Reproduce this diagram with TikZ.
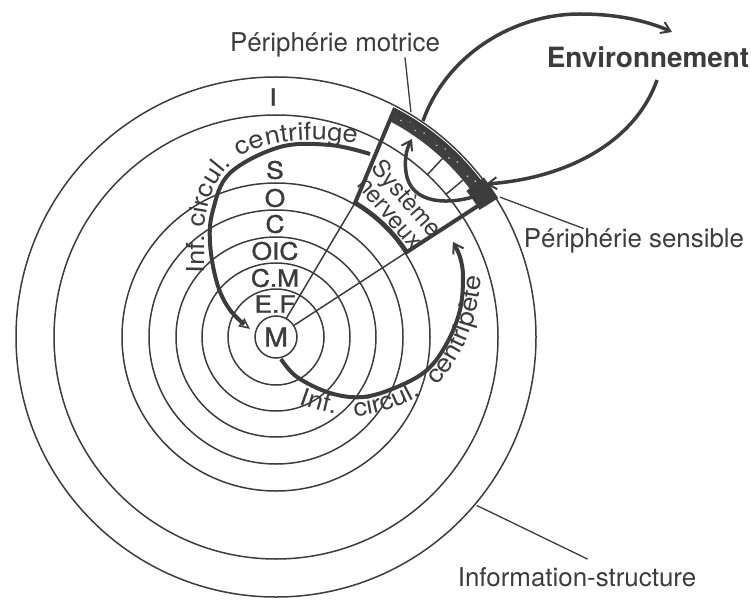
\documentclass[tikz,border=0pt]{standalone}
\usepackage{fontspec}
\setmainfont{TeX Gyre Heros}
\newfontfamily\widehel[FakeStretch=1.1]{TeX Gyre Heros}
\newfontfamily\levelhel[FakeStretch=1.1,FakeBold=1.5]{TeX Gyre Heros}
\usetikzlibrary{arrows.meta,decorations.text}
\definecolor{ink}{HTML}{3C3C3C}
\definecolor{band}{HTML}{404040}
\begin{document}
\begin{tikzpicture}[x=1bp,y=-1bp,
  ring/.style={draw=ink,line width=1.5bp},
  heavy/.style={draw=ink,line width=4bp},
  pointer/.style={draw=ink,line width=1.3bp},
  barb/.style={-{Straight Barb[length=9bp,width=12bp,line width=2bp]}},
  lbl/.style={inner sep=0pt,text=ink,font=\fontsize{26}{26}\selectfont},
  ringlbl/.style={inner sep=0pt,text=ink,font=\levelhel\fontsize{24}{24}\selectfont},
  curvetext/.style={decorate,decoration={text along path,text align=left,
     text={|\widehel\fontsize{25}{25}\selectfont\color{ink}|#1}}},
]
\useasboundingbox (0,0) rectangle (751,600);
\coordinate (C) at (276,337);

% concentric levels
\begin{scope}[shift={(C)}]
  \foreach \r in {48,74,100,127,154,222,260}
    \draw[ring] (0,0) circle[radius=\r];
\end{scope}
\node[ring,fill=white,circle,minimum size=42bp,inner sep=0pt,ringlbl,font=\levelhel\fontsize{26}{26}\selectfont] (M) at (C) {M};

% level names
\node[ringlbl] (lI)   at (273,97)  {I};
\node[ringlbl] (lS)   at (275,170) {S};
\node[ringlbl] (lO)   at (275,198) {O};
\node[ringlbl] (lC)   at (275,224) {C};
\node[ringlbl] (lOIC) at (275,251) {OIC};
\node[ringlbl] (lCM)  at (275,278) {C.M};
\node[ringlbl] (lEF)  at (275,304) {E.F};

% nervous system sector
\begin{scope}[shift={(C)}]
  \draw[ring] (M.61) -- (-59.5:156);
  \draw[ring] (M.33) -- (-33:156);
  \fill[band] (-62.5:244) arc[start angle=-62.5,end angle=-34,radius=244]
     -- (-34:258) arc[start angle=-34,end angle=-62.5,radius=258] -- cycle;
  \foreach \a/\r in {-60/250,-58/254,-56/249,-54/252,-52/255,-50/250,-48/253,-46/249,-44/252,-42/255,-40/250,-38/253}
    \fill[white!70!band] (\a:\r) circle[radius=0.9];
  \fill[ink] (-32:240) arc[start angle=-32,end angle=-37.5,radius=240]
     -- (-37.5:262) arc[start angle=-37.5,end angle=-32,radius=262] -- cycle;
  \draw[ring] (-47:222) -- (-47:244);
  \draw[ring] (-40:222) -- (-40:244);
  \draw[heavy,line join=miter] (-59.5:156) -- (-62.5:256)
     arc[start angle=-62.5,end angle=-33,radius=256]
     -- (-33:156) arc[start angle=-33,end angle=-59.5,radius=156] -- cycle;
  \coordinate (pm) at (-59:262);
  \coordinate (ps) at (-32:264);
  \coordinate (is) at (40:262);
\end{scope}
\node[lbl,font=\fontsize{24}{22}\selectfont,rotate=-49,align=center] (sn) at (399,205) {Système\\nerveux};

% reflex loop inside the sector
\draw[heavy,line width=3.5bp,barb] (482,194) .. controls (450,206) and (410,205) .. (406,172)
   .. controls (404,158) and (407,148) .. (412,139);

% centrifugal circulation
\draw[heavy,-{Triangle[open,length=11bp,width=10bp,line width=1.5bp]}]
  plot[smooth,tension=0.6] coordinates {(370,154) (330,145) (280,147) (230,173) (213,210) (210,243) (217,283) (230,310) (250,329)};
\path[curvetext={Inf.}] (204,273) -- (204.6,230);
\path[curvetext={circul.}] (205,228) .. controls (206,200) and (214,178) .. (238,158);
\path[curvetext={centrifuge}] (240,157) .. controls (262,142) and (300,134) .. (374,145);

% centripetal circulation
\draw[heavy,barb]
  plot[smooth,tension=0.6] coordinates {(281,359) (297,377) (330,393) (363,397) (397,387) (427,370) (447,343) (460,310) (463,277) (460,257) (453,242)};
\path[curvetext={Inf.}] (299,404) .. controls (310,408) and (322,412) .. (345,416);
\path[curvetext={circul.}] (354,416) .. controls (375,416) and (404,407) .. (430,389);
\path[curvetext={centripète}] (436,385) .. controls (462,360) and (481,320) .. (483,255);

% environment loop
\node[lbl,font=\bfseries\fontsize{28}{28}\selectfont] (env) at (648,57) {Environnement};
\draw[heavy,line width=3.5bp,barb] (423,121) .. controls (445,58) and (510,14) .. (580,14)
   .. controls (620,14) and (650,22) .. (672,32);
\draw[heavy,line width=3.5bp,barb] (657,80) .. controls (636,140) and (570,178) .. (486,184);

% labels with pointers
\node[lbl] (motrice) at (335,45) {Périphérie motrice};
\draw[pointer] ([xshift=70bp]motrice.south) -- (pm);
\node[lbl] (sensible) at (634,241) {Périphérie sensible};
\draw[pointer] ([xshift=60bp]sensible.north west) -- (ps);
\node[lbl] (info) at (577,577) {Information-structure};
\draw[pointer] ([xshift=130bp,yshift=8bp]info.north west) -- (is);
\end{tikzpicture}
\end{document}
